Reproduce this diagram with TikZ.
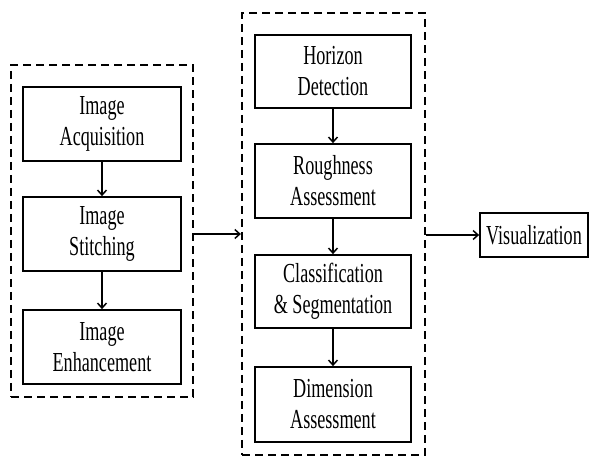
\documentclass[tikz,border=0pt]{standalone}
\usepackage{fontspec}
\setmainfont{Liberation Serif}[FakeStretch=0.66]
\usetikzlibrary{arrows.meta}
\begin{document}
\begin{tikzpicture}[x=1pt,y=-1pt,
  stepbox/.style={draw,line width=1.7pt,align=center,inner sep=0pt,
    font=\fontsize{27.5}{31}\selectfont},
  groupbox/.style={draw,line width=2.2pt,dash pattern=on 8pt off 5pt,inner sep=0pt},
  flow/.style={line width=1.5pt,-{Straight Barb[length=5pt,width=9pt,line width=1.5pt]}}]
\useasboundingbox (0,0) rectangle (590,457);
% left group
\node[groupbox,minimum width=182pt,minimum height=332pt] (ldash) at (102,231) {};
\node[stepbox,minimum width=158pt,minimum height=74pt] (acq) at (102,124) {Image\\Acquisition};
\node[stepbox,minimum width=158pt,minimum height=74pt] (sti) at (102,234) {Image\\Stitching};
\node[stepbox,minimum width=158pt,minimum height=74pt] (enh) at (102,347) {Image\\Enhancement};
% middle group
\node[groupbox,minimum width=183pt,minimum height=442pt] (mdash) at (333.5,234) {};
\node[stepbox,minimum width=156pt,minimum height=73pt] (hor) at (333,71.5) {Horizon\\Detection};
\node[stepbox,minimum width=156pt,minimum height=74pt] (rou) at (333,181) {Roughness\\Assessment};
\node[stepbox,minimum width=156pt,minimum height=73pt] (cls) at (333,291.5) {Classification\\\&~Segmentation};
\node[stepbox,minimum width=156pt,minimum height=75pt] (dim) at (333,404.5) {Dimension\\Assessment};
% visualization
\node[stepbox,minimum width=108pt,minimum height=44pt] (vis) at (534,235) {Visualization};
% arrows
\draw[flow] (acq) -- (sti);
\draw[flow] (sti) -- (enh);
\draw[flow] (hor) -- (rou);
\draw[flow] (rou) -- (cls);
\draw[flow] (cls) -- (dim);
\draw[flow] (ldash.east |- mdash.west) -- (mdash.west);
\draw[flow] (mdash.east |- vis.west) -- (vis.west);
\end{tikzpicture}
\end{document}
